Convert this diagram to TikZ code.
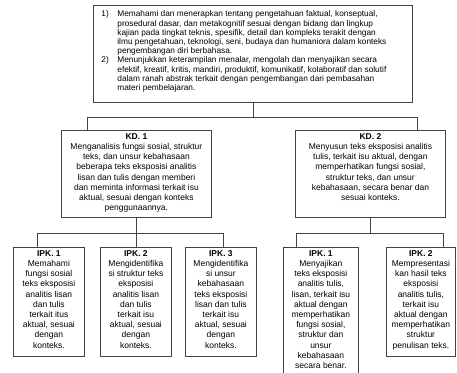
\documentclass[tikz,border=0pt]{standalone}
\usepackage{fontspec}
\setmainfont{Liberation Sans}
\usepackage{xcolor}
\usetikzlibrary{positioning,calc}
\definecolor{rule}{HTML}{444444}
\newcommand{\cellbox}[3]{\parbox[c][#2][t]{#1}{\centering #3}}

\begin{document}
\begin{tikzpicture}[x=1pt,y=-1pt]
  \tikzstyle{goal}=[draw=rule, line width=0.8pt, anchor=north west, inner xsep=8pt, inner ysep=5pt, font=\fontsize{8.3}{9.2}\selectfont]
  \tikzstyle{kd}=[draw=rule, line width=0.8pt, anchor=north west, inner sep=3pt, font=\fontsize{8.5}{10.2}\selectfont]
  \tikzstyle{ipk}=[draw=rule, line width=0.8pt, anchor=north west, inner sep=3pt, font=\fontsize{8.5}{10.2}\selectfont]
  \tikzstyle{link}=[-, line width=0.8pt, rule]
  \useasboundingbox (0,0) rectangle (457,372);

  % Kompetensi inti di atas
  \node[goal] (top) at (93,5) {\parbox[c][87pt][t]{303pt}{%
    \begin{tabular}{@{}p{16pt}@{}l@{}}
    1) & Memahami dan menerapkan tentang pengetahuan faktual, konseptual,\\
       & prosedural dasar, dan metakognitif sesuai dengan bidang dan lingkup\\
       & kajian pada tingkat teknis, spesifik, detail dan kompleks terakit dengan\\
       & ilmu pengetahuan, teknologi, seni, budaya dan humaniora dalam konteks\\
       & pengembangan diri berbahasa.\\
    2) & Menunjukkan keterampilan menalar, mengolah dan menyajikan secara\\
       & efektif, kreatif, kritis, mandiri, produktif, komunikatif, kolaboratif dan solutif\\
       & dalam ranah abstrak terkait dengan pengembangan dari pembasahan\\
       & materi pembelajaran.
    \end{tabular}}};

  % KD
  \node[kd] (kd1) at (61,130) {\cellbox{144pt}{81pt}{\textbf{KD. 1}\\
    Menganalisis fungsi sosial, struktur\\ teks, dan unsur kebahasaan\\
    beberapa teks eksposisi analitis\\ lisan dan tulis dengan memberi\\
    dan meminta informasi terkait isu\\ aktual, sesuai dengan konteks\\
    penggunaannya.}};
  \node[kd] (kd2) at (295,130) {\cellbox{144pt}{81pt}{\textbf{KD. 2}\\
    Menyusun teks eksposisi analitis\\ tulis, terkait isu aktual, dengan\\
    memperhatikan fungsi sosial,\\ struktur teks, dan unsur\\
    kebahasaan, secara benar dan\\ sesuai konteks.}};

  % IPK untuk KD 1
  \node[ipk] (ipka1) at (13,247) {\cellbox{65pt}{103pt}{\textbf{IPK. 1}\\
    Memahami\\ fungsi sosial\\ teks eksposisi\\ analitis lisan\\ dan tulis\\
    terkait itus\\ aktual, sesuai\\ dengan\\ konteks.}};
  \node[ipk] (ipka2) at (100,247) {\cellbox{65pt}{103pt}{\textbf{IPK. 2}\\
    Mengidentifika\\ si struktur teks\\ eksposisi\\ analitis lisan\\ dan tulis\\
    terkait isu\\ aktual, sesuai\\ dengan\\ konteks.}};
  \node[ipk] (ipka3) at (185,247) {\cellbox{65pt}{103pt}{\textbf{IPK. 3}\\
    Mengidentifika\\ si unsur\\ kebahasaan\\ teks eksposisi\\ lisan dan tulis\\
    terkait isu\\ aktual, sesuai\\ dengan\\ konteks.}};

  % IPK untuk KD 2
  \node[ipk, inner xsep=1pt] (ipkb1) at (283,247) {\cellbox{73pt}{150pt}{\textbf{IPK. 1}\\
    Menyajikan\\ teks eksposisi\\ analitis tulis,\\ lisan, terkait isu\\
    aktual dengan\\ memperhatikan\\ fungsi sosial,\\ struktur dan\\ unsur\\
    kebahasaan\\ secara benar.}};
  \node[ipk] (ipkb2) at (386,247) {\cellbox{63pt}{103pt}{\textbf{IPK. 2}\\
    Mempresentasi\\ kan hasil teks\\ eksposisi\\ analitis tulis,\\ terkait isu\\
    aktual dengan\\ memperhatikan\\ struktur\\ penulisan teks.}};

  % Garis penghubung
  \draw[link] (top.south) -- ++(0,15) coordinate (b0);
  \draw[link] (b0) -| ([xshift=26pt]kd1.north west);
  \draw[link] (b0) -| ([xshift=-28pt]kd2.north east);

  \draw[link] (kd1.south) -- ++(0,16) coordinate (b1);
  \draw[link] (b1) -| ([xshift=-12pt]ipka1.north);
  \draw[link] (b1) -- (b1 |- ipka2.north);
  \draw[link] (b1) -| ([xshift=2pt]ipka3.north);

  \draw[link] (kd2.south) -- ++(0,16) coordinate (b2);
  \draw[link] (b2) -| ([xshift=13pt]ipkb1.north west);
  \draw[link] (b2) -| ([xshift=-12pt]ipkb2.north east);
\end{tikzpicture}
\end{document}
